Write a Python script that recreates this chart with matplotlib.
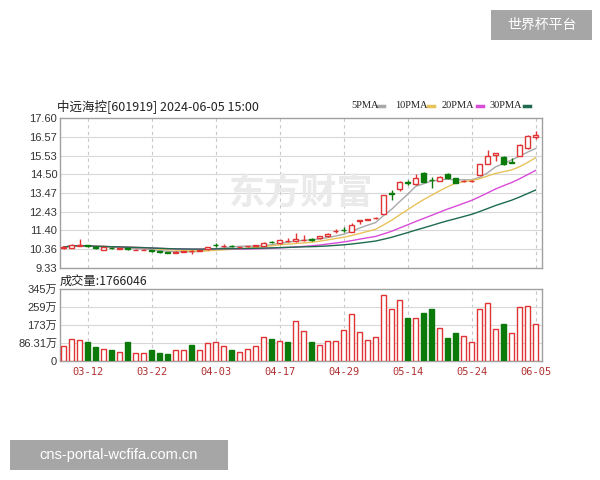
import numpy as np
import pandas as pd
import matplotlib
matplotlib.use("Agg")
import matplotlib.pyplot as plt
from matplotlib.patches import Rectangle

plt.rcParams['font.family'] = ['Liberation Sans', 'Noto Sans CJK SC', 'DejaVu Sans']

# ---------------- data ----------------
dates = ["03-07", "03-08", "03-11", "03-12", "03-13", "03-14", "03-15", "03-18", "03-19", "03-20",
         "03-21", "03-22", "03-25", "03-26", "03-27", "03-28", "03-29", "04-01", "04-02", "04-03",
         "04-08", "04-09", "04-10", "04-11", "04-12", "04-15", "04-16", "04-17", "04-18", "04-19",
         "04-22", "04-23", "04-24", "04-25", "04-26", "04-29", "04-30", "05-06", "05-07", "05-08",
         "05-09", "05-10", "05-13", "05-14", "05-15", "05-16", "05-17", "05-20", "05-21", "05-22",
         "05-23", "05-24", "05-27", "05-28", "05-29", "05-30", "05-31", "06-03", "06-04", "06-05"]

opens = [10.42, 10.44, 10.55, 10.58, 10.50, 10.34, 10.45, 10.40, 10.42, 10.33,
         10.32, 10.30, 10.24, 10.20, 10.18, 10.22, 10.25, 10.28, 10.36, 10.62,
         10.55, 10.55, 10.47, 10.52, 10.53, 10.57, 10.76, 10.70, 10.80, 10.81,
         10.85, 10.92, 10.97, 11.07, 11.36, 11.42, 11.31, 11.94, 11.99, 12.06,
         12.33, 13.46, 13.66, 14.05, 13.95, 14.55, 14.20, 14.14, 14.49, 14.27,
         14.10, 14.12, 14.45, 15.06, 15.58, 15.47, 15.16, 15.51, 15.93, 16.58]
closes = [10.48, 10.61, 10.60, 10.52, 10.42, 10.47, 10.42, 10.42, 10.36, 10.34,
          10.33, 10.24, 10.20, 10.16, 10.22, 10.26, 10.26, 10.32, 10.47, 10.60,
          10.57, 10.53, 10.47, 10.53, 10.60, 10.72, 10.74, 10.85, 10.84, 10.94,
          10.90, 10.90, 11.08, 11.22, 11.36, 11.40, 11.72, 11.96, 12.01, 12.08,
          13.34, 13.43, 14.08, 14.02, 14.27, 14.08, 14.17, 14.36, 14.27, 14.03,
          14.13, 14.15, 15.06, 15.53, 15.66, 15.05, 15.14, 16.12, 16.62, 16.65]
highs = [10.52, 10.63, 10.94, 10.62, 10.55, 10.48, 10.48, 10.44, 10.44, 10.36,
         10.35, 10.31, 10.26, 10.22, 10.24, 10.28, 10.30, 10.34, 10.49, 10.70,
         10.65, 10.58, 10.50, 10.55, 10.62, 10.74, 10.82, 10.87, 10.99, 11.25,
         11.16, 10.96, 11.10, 11.24, 11.47, 11.57, 11.83, 11.97, 12.03, 12.12,
         13.36, 13.63, 14.10, 14.20, 14.51, 14.64, 14.36, 14.38, 14.56, 14.30,
         14.18, 14.20, 15.08, 15.84, 15.68, 15.50, 15.41, 16.14, 16.66, 16.86]
lows = [10.40, 10.42, 10.52, 10.50, 10.40, 10.32, 10.38, 10.38, 10.34, 10.31,
        10.30, 10.22, 10.18, 10.14, 10.16, 10.20, 10.12, 10.26, 10.34, 10.50,
        10.48, 10.50, 10.45, 10.50, 10.52, 10.55, 10.70, 10.68, 10.78, 10.79,
        10.83, 10.80, 10.95, 11.05, 11.27, 11.31, 11.29, 11.78, 11.97, 12.04,
        12.30, 13.07, 13.60, 13.90, 13.90, 14.05, 13.72, 14.12, 14.25, 14.00,
        14.06, 14.08, 14.43, 15.04, 15.23, 14.99, 15.10, 15.49, 15.90, 16.44]

volume = [71, 107, 103, 89, 68, 58, 52, 44, 89, 40,
          37, 52, 37, 32, 52, 52, 78, 52, 84, 89,
          71, 52, 42, 58, 71, 116, 107, 97, 89, 192,
          144, 92, 78, 97, 97, 149, 224, 139, 103, 113,
          318, 249, 294, 208, 208, 229, 249, 157, 108, 132,
          118, 89, 249, 278, 152, 178, 132, 258, 262, 176.6]
vol_up = [1, 1, 1, 0, 0, 1, 0, 1, 0, 1,
          1, 0, 0, 0, 1, 1, 0, 1, 1, 1,
          1, 0, 1, 1, 1, 1, 0, 1, 0, 1,
          1, 0, 1, 1, 1, 1, 1, 1, 1, 1,
          1, 1, 1, 0, 1, 0, 0, 1, 0, 0,
          1, 1, 1, 1, 1, 0, 1, 1, 1, 1]

price_ticks = ["9.33", "10.36", "11.40", "12.43", "13.47", "14.50", "15.53", "16.57", "17.60"]
vol_ticks = [0, 86.31, 172.6, 258.9, 345.2]
vol_tick_labels = ["0", "86.31万", "173万", "259万", "345万"]
date_ticks = ["03-12", "03-22", "04-03", "04-17", "04-29", "05-14", "05-24", "06-05"]
ma_periods = [5, 10, 20, 30]
ma_names = ["5PMA", "10PMA", "20PMA", "30PMA"]

# ---------------- style ----------------
RED = "#E03434"
GREEN = "#0B7A0B"
MA_COLORS = ["#A8A8A8", "#E8C25A", "#D94BD9", "#1E6B4E"]
GRID = "#D8D8D8"
SPINE = "#A0A0A0"

W, H = 600, 480
fig = plt.figure(figsize=(6, 4.8), dpi=100)
fig.patch.set_facecolor("white")

def fx(px):
    return px / W

def fy(py):
    return 1 - py / H

ax = fig.add_axes([fx(60), fy(268), fx(542) - fx(60), fy(118) - fy(268)])
axv = fig.add_axes([fx(60), fy(361), fx(542) - fx(60), fy(289) - fy(361)])

n = len(opens)
x = np.arange(n)
o = np.array(opens); c = np.array(closes); hi = np.array(highs); lo = np.array(lows)
up = c >= o

pt = [float(v) for v in price_ticks]
ax.set_ylim(pt[0], pt[-1])
ax.set_xlim(-0.45, n - 0.2)
ax.set_yticks(pt)
ax.set_yticklabels(price_ticks)

xt = [dates.index(d) for d in date_ticks]
for a in (ax, axv):
    a.set_xticks(xt)
    a.tick_params(length=0, labelsize=8, colors="#333333", pad=2)
    a.grid(False)
    for s in a.spines.values():
        s.set_color(SPINE)
        s.set_linewidth(1)
    for v in xt:
        a.axvline(v, color="#C8C8C8", lw=0.8, ls=(0, (3, 3)), zorder=0)
ax.set_xticklabels([])
for v in pt[1:-1]:
    ax.axhline(v, color=GRID, lw=0.8, zorder=0)

# watermark
ax.text(0.5, 0.5, "东方财富", transform=ax.transAxes, fontsize=26, color="#EAEAEA",
        fontweight="bold", family=["Noto Sans CJK SC"], ha="center", va="center", zorder=0.5)

# moving averages
cs = pd.Series(c)
for p, col in zip(ma_periods, MA_COLORS):
    ma = cs.rolling(p, min_periods=1).mean()
    ax.plot(x, ma, color=col, lw=1.0, zorder=2)

# candles
bw = 0.62
for i in range(n):
    col = RED if up[i] else GREEN
    top, bot = max(o[i], c[i]), min(o[i], c[i])
    ax.vlines(x[i], top, hi[i], color=col, lw=1.0, zorder=3)
    ax.vlines(x[i], lo[i], bot, color=col, lw=1.0, zorder=3)
    h = max(top - bot, 0.012)
    ax.add_patch(Rectangle((x[i] - bw / 2, bot), bw, h,
                           facecolor="white" if up[i] else GREEN,
                           edgecolor=col, lw=1.0, zorder=4))

# volume
axv.set_ylim(0, vol_ticks[-1])
axv.set_xlim(ax.get_xlim())
axv.set_yticks(vol_ticks)
axv.set_yticklabels(vol_tick_labels)
for v in vol_ticks[1:-1]:
    axv.axhline(v, color=GRID, lw=0.8, zorder=0)
vcol = [RED if u else GREEN for u in vol_up]
vface = ["white" if u else GREEN for u in vol_up]
axv.bar(x, volume, width=0.62, color=vface, edgecolor=vcol, lw=1.0, zorder=3)
axv.set_xticklabels(date_ticks, family=["DejaVu Sans Mono"], fontsize=7.5, color="#B03030")
axv.tick_params(axis="x", pad=4)

# titles
fig.text(fx(57), fy(106), "中远海控[601919] 2024-06-05 15:00", fontsize=9,
         family=["Noto Sans CJK SC"], color="#222222", va="center", ha="left")
fig.text(fx(60), fy(281), "成交量:1766046", fontsize=8.8,
         family=["Noto Sans CJK SC"], color="#222222", va="center", ha="left")

# legend
lx = [351, 395, 442, 490]
line_x = [378, 428, 477, 524]
for name, col, px, qx in zip(ma_names, MA_COLORS, lx, line_x):
    fig.text(fx(px), fy(106), name, fontsize=7.5, color="#222222", va="center", ha="left",
             family=["Liberation Serif"])
    fig.add_artist(plt.Line2D([fx(qx), fx(qx + 6)], [fy(106), fy(106)],
                              transform=fig.transFigure, color=col, lw=2.5))

# corner labels
fig.add_artist(Rectangle((fx(491), fy(40)), fx(101), fy(10) - fy(40), transform=fig.transFigure,
                         facecolor="#A6A6A6", edgecolor="none"))
fig.text(fx(541.5), fy(25), "世界杯平台", fontsize=10, color="white", ha="center", va="center",
         family=["Noto Sans CJK SC"])
fig.add_artist(Rectangle((fx(10), fy(470)), fx(218), fy(440) - fy(470), transform=fig.transFigure,
                         facecolor="#A6A6A6", edgecolor="none"))
fig.text(fx(119), fy(455), "cns-portal-wcfifa.com.cn", fontsize=10.5, color="white",
         ha="center", va="center", family=["Liberation Sans"])

fig.savefig("out.png", dpi=100)
